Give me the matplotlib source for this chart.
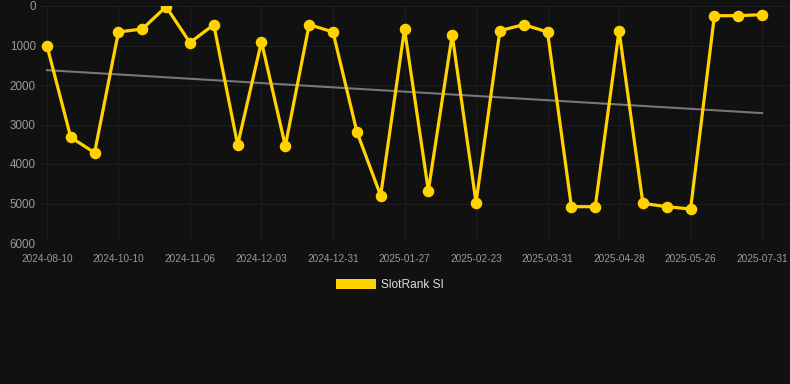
import numpy as np
import matplotlib
matplotlib.use("Agg")
import matplotlib.pyplot as plt
from matplotlib.patches import Patch

plt.rcParams['font.family'] = ['Liberation Sans', 'DejaVu Sans']

# rank per snapshot (lower is better, axis is flipped)
ranks = [1000, 3325, 3714, 658, 582, 17, 928, 472, 3519, 903,
         3544, 472, 658, 3181, 4802, 582, 4675, 726, 4979, 624,
         472, 658, 5081, 5081, 624, 4996, 5081, 5139, 245, 245, 220]
tick_idx = [0, 3, 6, 9, 12, 15, 18, 21, 24, 27, 30]
tick_labels = ["2024-08-10", "2024-10-10", "2024-11-06", "2024-12-03",
               "2024-12-31", "2025-01-27", "2025-02-23", "2025-03-31",
               "2025-04-28", "2025-05-26", "2025-07-31"]
y_ticks = [0, 1000, 2000, 3000, 4000, 5000, 6000]

bg = "#111111"
gold = "#FFD200"

fig = plt.figure(figsize=(7.9, 3.84), dpi=100, facecolor=bg)
ax = fig.add_axes([40 / 790, 1 - 243 / 384, 750 / 790, 237 / 384])
ax.set_facecolor(bg)

x = np.arange(len(ranks))
# linear trend over the whole series
k, b = np.polyfit(x, ranks, 1)
ax.plot(x, k * x + b, color="#777777", linewidth=1.5, zorder=2)
ax.plot(x, ranks, color=gold, linewidth=2.3, marker="o", markersize=7.3,
        zorder=3)

ax.set_xlim(-0.29, 31.17)
ax.set_ylim(6000, 0)
ax.set_yticks(y_ticks)
ax.set_yticklabels([str(v) for v in y_ticks], fontsize=8.4, color="#9a9a9a")
ax.set_xticks(tick_idx)
ax.set_xticklabels(tick_labels, fontsize=7.2, color="#9a9a9a")
ax.tick_params(axis="x", length=0, pad=8)
ax.tick_params(axis="y", length=0, pad=3)
ax.grid(True, color="#1d1d1d", linewidth=0.8)
ax.axhline(6000, color="#2a2a2a", linewidth=0.8, zorder=1)
for s in ax.spines.values():
    s.set_visible(False)

fig.legend(handles=[Patch(facecolor=gold, label="SlotRank SI")],
           loc="center", bbox_to_anchor=(390 / 790, 1 - 285 / 384),
           frameon=False, fontsize=8.6, labelcolor="#dddddd",
           handlelength=3.35, handleheight=1.0, handletextpad=0.45)

fig.savefig("out.png", dpi=100, facecolor=bg)
